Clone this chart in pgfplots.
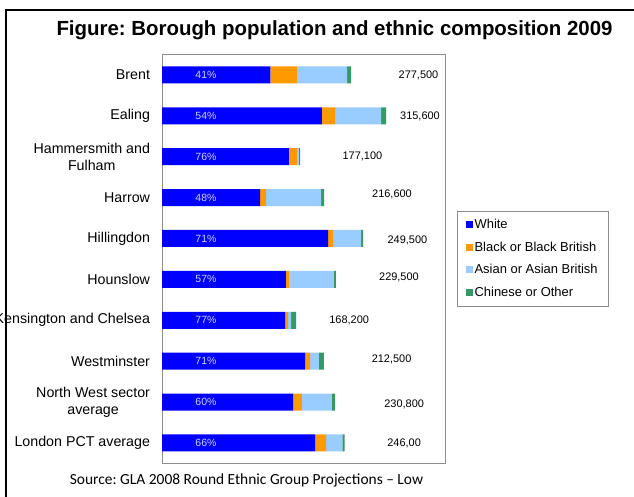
\documentclass[border=0pt]{standalone}
\usepackage{pgfplots}
\pgfplotsset{compat=1.18}
\usepackage{pgfplotstable}
\usepackage{fontspec}
\setmainfont{Liberation Sans}
\newfontfamily\srcfont{Carlito}

\definecolor{cWhite}{HTML}{0000FF}
\definecolor{cBlack}{HTML}{FF9900}
\definecolor{cAsian}{HTML}{99CCFF}
\definecolor{cOther}{HTML}{339966}
\definecolor{pctcol}{HTML}{D0D0FF}
\definecolor{boxgray}{HTML}{8C8C8C}

% values in thousands of residents
\pgfplotstableread{
y white black asian other
0 115.0 27.9 53.3 4.3
1 169.6 13.8 48.8 5.3
2 134.6 8.5 2.1 1.1
3 103.9 6.4 58.3 3.2
4 176.0 5.3 29.7 2.1
5 131.4 3.2 47.7 2.1
6 130.4 3.2 3.2 5.3
7 151.6 5.3 9.5 5.3
8 138.9 9.5 31.8 3.2
9 162.2 11.7 17.3 2.5
}\ethnic

\pgfplotstableread{
x y lab
271.9 0.02 277,500
273.5 1.02 315,600
212.5 2.0 177,100
243.8 2.93 216,600
260.2 4.05 249,500
251.2 4.95 229,500
198.4 6.0 168,200
243.4 6.95 212,500
256.7 8.05 230,800
256.7 9.0 246,00
}\totals

\pgfplotstableread{
x y pct
46.6 0 41
46.6 1 54
46.6 2 76
46.6 3 48
46.6 4 71
46.6 5 57
46.6 6 77
46.6 7 71
46.6 8 60
46.6 9 66
}\pcts

\pgfplotsset{
  commonaxis/.style={
    scale only axis,
    width=283bp, height=409bp,
    at={(162bp,-463bp)}, anchor=south west,
    xmin=0, xmax=300,
    ymin=-0.51, ymax=9.49,
    y dir=reverse,
    enlargelimits=false,
  }
}

\begin{document}
\frenchspacing
\begin{tikzpicture}
\path[use as bounding box] (0,0) rectangle (634bp,-497bp);

\begin{axis}[
  commonaxis,
  xbar stacked,
  bar width=17bp,
  axis line style={boxgray, line width=1bp},
  xtick=\empty,
  ytick={0,...,9},
  yticklabels={Brent, Ealing, {Hammersmith and\\Fulham}, Harrow, Hillingdon,
    Hounslow, Kensington and Chelsea, Westminster, {North West sector\\average},
    London PCT average},
  yticklabel style={align=center, font=\fontsize{14.3}{17}\selectfont, xshift=-8.5bp},
  major tick length=0pt,
  legend style={at={(1.042,0.616)}, anchor=north west, draw=boxgray,
    font=\fontsize{13}{15}\selectfont, row sep=9bp,
    inner xsep=9bp, inner ysep=6bp,
    nodes={inner sep=1.5bp}},
  legend cell align=left,
  legend image code/.code={\fill[#1] (0bp,-3.5bp) rectangle (7bp,3.5bp);},
]
\addplot[fill=cWhite, draw=none] table[x=white, y=y]{\ethnic};
\addlegendentry{White}
\addplot[fill=cBlack, draw=none] table[x=black, y=y]{\ethnic};
\addlegendentry{Black or Black British}
\addplot[fill=cAsian, draw=none] table[x=asian, y=y]{\ethnic};
\addlegendentry{Asian or Asian British}
\addplot[fill=cOther, draw=none] table[x=other, y=y]{\ethnic};
\addlegendentry{Chinese or Other}
\end{axis}

\begin{axis}[commonaxis, hide axis]
\addplot[draw=none, nodes near coords={\pgfplotspointmeta}, point meta=explicit symbolic,
  nodes near coords align=center,
  every node near coord/.append style={font=\fontsize{11}{12}\selectfont, text=black}]
  table[x=x, y=y, meta=lab]{\totals};
\addplot[draw=none, nodes near coords={\pgfplotspointmeta\%},
  point meta=explicit symbolic, nodes near coords align=center,
  every node near coord/.append style={font=\fontsize{10.5}{12}\selectfont, text=pctcol}]
  table[x=x, y=y, meta=pct]{\pcts};
\end{axis}

% frame and titles
\draw[line width=2bp] (5.5bp,-497bp) -- (5.5bp,-10bp) -- (634bp,-10bp);
\node[font=\bfseries\fontsize{20.5}{23}\selectfont] at (334.5bp,-30bp)
  {Figure: Borough population and ethnic composition 2009};
\node[font=\srcfont\fontsize{15.5}{17}\selectfont] at (246.5bp,-480bp)
  {Source: GLA 2008 Round Ethnic Group Projections – Low};
\end{tikzpicture}
\end{document}
